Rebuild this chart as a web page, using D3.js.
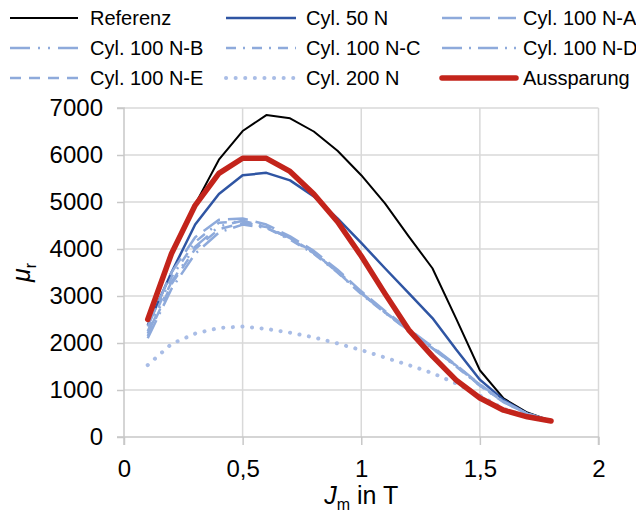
<!DOCTYPE html>
<html><head><meta charset="utf-8">
<script src="https://cdn.jsdelivr.net/npm/d3@7"></script>
<style>body{margin:0;background:#fff} text{font-family:"Liberation Sans",Arial,sans-serif;fill:#000}</style>
</head><body><svg id="c" width="636" height="523"></svg>
<script>
const jm = [0.1,0.2,0.3,0.4,0.5,0.6,0.7,0.8,0.9,1.0,1.1,1.2,1.3,1.4,1.5,1.6,1.7,1.8];
const referenz = [2450,3850,4950,5900,6510,6850,6780,6500,6090,5570,4970,4270,3590,2520,1420,820,520,340];
const cyl50 = [2380,3500,4520,5170,5570,5620,5460,5120,4650,4130,3590,3060,2530,1860,1220,790,500,340];
const cyl100A = [2350,3500,4250,4620,4650,4520,4270,3960,3560,3100,2680,2300,1920,1530,1120,760,500,340];
const cyl100B = [2200,3300,4050,4480,4600,4480,4230,3920,3520,3060,2650,2270,1890,1510,1100,750,490,335];
const cyl100C = [2250,3400,4150,4560,4580,4450,4200,3900,3500,3040,2640,2260,1880,1500,1090,740,490,335];
const cyl100D = [2100,3150,3900,4350,4520,4450,4230,3930,3530,3070,2660,2280,1900,1520,1110,750,495,335];
const cyl100E = [2150,3250,4000,4420,4550,4470,4220,3910,3510,3050,2650,2270,1890,1510,1100,745,490,335];
const cyl200 = [1530,1980,2200,2320,2350,2300,2220,2120,1990,1850,1690,1530,1360,1140,880,600,430,330];
const aussparung = [2500,3900,4930,5610,5930,5930,5650,5170,4580,3850,3050,2280,1720,1210,830,570,430,340];

const seriesNames = ["Referenz","Cyl. 50 N","Cyl. 100 N-A","Cyl. 100 N-B","Cyl. 100 N-C","Cyl. 100 N-D","Cyl. 100 N-E","Cyl. 200 N","Aussparung"];
const xTicks = [0,0.5,1,1.5,2];
const yTicks = [0,1000,2000,3000,4000,5000,6000,7000];

const light = "#8eaadb";
const styles = [
  {c:"#000000", w:2, d:null},
  {c:"#2f55a3", w:2.5, d:null},
  {c:light, w:2.5, d:"20 8"},
  {c:light, w:2.5, d:"20 8 2 8 2 8"},
  {c:light, w:2.5, d:"10 7 2 7"},
  {c:light, w:2.5, d:"20 7 2 7"},
  {c:light, w:2.5, d:"11 8"},
  {c:"#a9bde6", w:4, d:"0.1 9.5", cap:"round"},
  {c:"#c3241b", w:5.5, d:null, cap:"round"}
];
const allData = [referenz,cyl50,cyl100A,cyl100B,cyl100C,cyl100D,cyl100E,cyl200,aussparung];

const svg = d3.select("#c");
const x = d3.scaleLinear().domain([0,2]).range([124,598.5]);
const y = d3.scaleLinear().domain([0,7000]).range([437,108]);

// gridlines
svg.append("g").selectAll("line").data(yTicks.slice(1)).join("line")
  .attr("x1",x(0)).attr("x2",x(2)).attr("y1",d=>y(d)).attr("y2",d=>y(d))
  .attr("stroke","#d9d9d9").attr("stroke-width",1.5);
svg.append("g").selectAll("line").data(xTicks.slice(1)).join("line")
  .attr("x1",d=>x(d)).attr("x2",d=>x(d)).attr("y1",y(0)).attr("y2",y(7000))
  .attr("stroke","#d9d9d9").attr("stroke-width",1.5);

// axes
const xAxis = d3.axisBottom(x).tickValues(xTicks).tickFormat(d=>String(d).replace(".",",")).tickSize(8).tickPadding(15);
const yAxis = d3.axisLeft(y).tickValues(yTicks).tickFormat(d=>String(d)).tickSize(7).tickPadding(14);
const gx = svg.append("g").attr("transform",`translate(0,${y(0)})`).call(xAxis);
const gy = svg.append("g").attr("transform",`translate(${x(0)},0)`).call(yAxis);
[gx,gy].forEach(g=>{
  g.select(".domain").attr("stroke","#c8c8c8").attr("stroke-width",1.5);
  g.selectAll(".tick line").attr("stroke","#c8c8c8").attr("stroke-width",1.5);
  g.selectAll(".tick text").style("font-size","24px").style("font-family","'Liberation Sans',Arial,sans-serif").attr("fill","#000");
});
gy.select(".domain").attr("d",`M-7,${y(7000)}H0V${y(0)}H-7`);
gx.select(".domain").attr("d",`M${x(0)},8V0H${x(2)}V8`);

// lines
const line = d3.line().x((d,i)=>x(jm[i])).y(d=>y(d));
allData.forEach((arr,k)=>{
  const s = styles[k];
  svg.append("path").datum(arr).attr("d",line).attr("fill","none")
    .attr("stroke",s.c).attr("stroke-width",s.w)
    .attr("stroke-dasharray",s.d).attr("stroke-linecap",s.cap||"butt").attr("stroke-linejoin","round");
});

// legend
const colX = [[10,78,90],[226,296,306],[442,516,523]];
const rowY = [18,48,78];
seriesNames.forEach((n,k)=>{
  const cx = colX[k%3], ry = rowY[Math.floor(k/3)];
  const s = styles[k];
  svg.append("line").attr("x1",cx[0]).attr("x2",cx[1]).attr("y1",ry).attr("y2",ry)
    .attr("stroke",s.c).attr("stroke-width",s.w).attr("stroke-dasharray",s.d).attr("stroke-linecap",s.cap||"butt");
  svg.append("text").attr("x",cx[2]).attr("y",ry+7).style("font-size","20px").text(n);
});

// axis titles
const yl = svg.append("text").attr("transform",`translate(30,${(y(0)+y(7000))/2}) rotate(-90)`)
  .attr("text-anchor","middle").style("font-size","25px");
yl.append("tspan").style("font-style","italic").text("μ");
yl.append("tspan").attr("dy",6).style("font-size","16px").text("r");

const xl = svg.append("text").attr("x",(x(0)+x(2))/2).attr("y",504).attr("text-anchor","middle").style("font-size","25px");
xl.append("tspan").style("font-style","italic").text("J");
xl.append("tspan").attr("dy",6).style("font-size","16px").text("m");
xl.append("tspan").attr("dy",-6).text(" in T");
</script></body></html>
